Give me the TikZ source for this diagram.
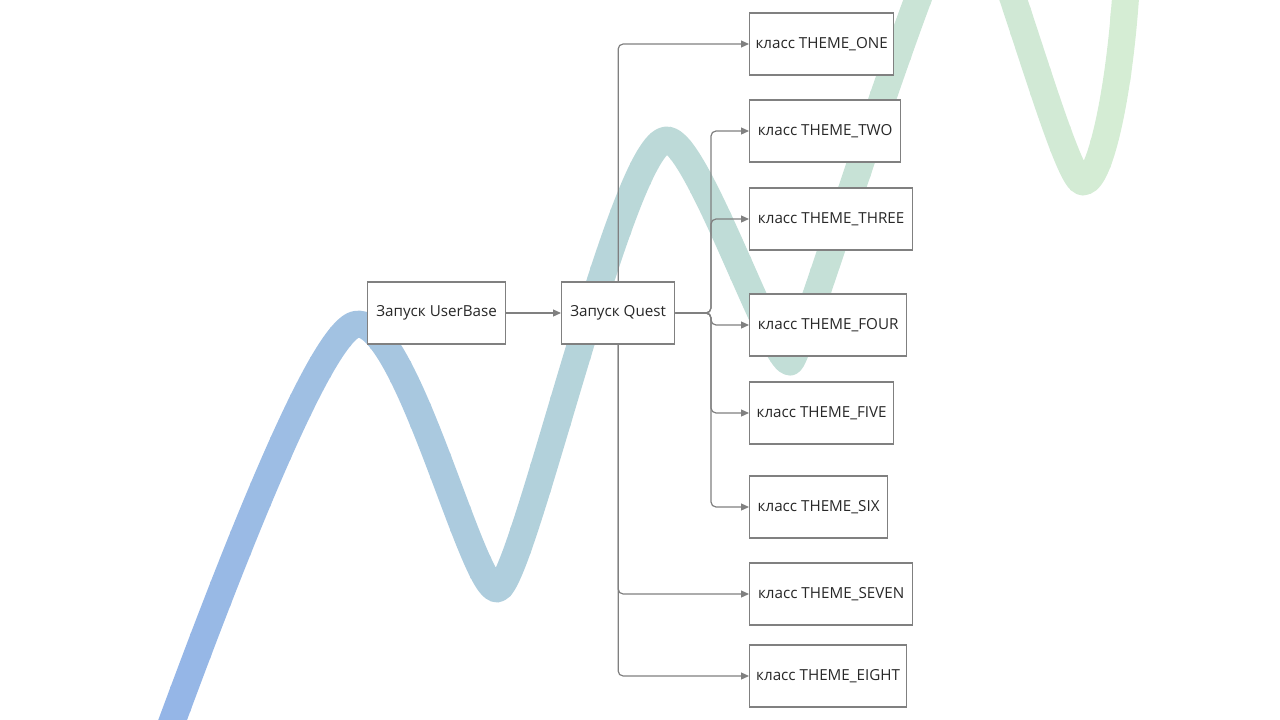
\documentclass[tikz,border=0pt]{standalone}
\usepackage{fontspec}
\setmainfont{Open Sans}
\usetikzlibrary{arrows.meta}
\definecolor{wblue}{RGB}{148,181,231}
\definecolor{wteal}{RGB}{187,217,216}
\definecolor{wgreen}{RGB}{214,237,212}
\definecolor{edgegray}{RGB}{128,128,128}
\definecolor{txt}{RGB}{40,40,40}
\begin{document}
\begin{tikzpicture}[x=1pt,y=-1pt,
 box/.style={draw=edgegray, line width=1.3pt, fill=white, minimum height=62pt, inner xsep=0pt, text=txt, font=\fontsize{15.2}{18}\selectfont, anchor=west},
 conn/.style={draw=edgegray, line width=1.2pt, rounded corners=5pt, -{Triangle[length=8pt,width=7pt]}},
 wave/.style={line width=27pt, line join=round}]
\useasboundingbox (0,0) rectangle (1280,720);
\begin{scope}
\clip (0,0) rectangle (1280,720);
\foreach \i in {0,...,50}{
  \pgfmathsetmacro\xs{150+\i*20}
  \pgfmathsetmacro\wt{min(max((\xs+10-170)/960,0),1)}
  \ifdim\wt pt<0.5pt
    \pgfmathsetmacro\wp{100-200*\wt}
    \colorlet{wc}{wblue!\wp!wteal}
  \else
    \pgfmathsetmacro\wp{200-200*\wt}
    \colorlet{wc}{wteal!\wp!wgreen}
  \fi
  \begin{scope}
   \clip (\xs,-200) rectangle ++(21,1100);
   \draw[wave, draw=wc] (156,765) .. controls (204,635) and (318,324) .. (358,324)
     .. controls (408,324) and (472,589) .. (497,589)
     .. controls (522,589) and (622,140) .. (667,140)
     .. controls (697,140) and (772,362) .. (790,362)
     .. controls (800,362) and (940,-105) .. (968,-105)
     .. controls (990,-105) and (1063,182) .. (1083,182)
     .. controls (1103,182) and (1126,60) .. (1128,-60);
  \end{scope}
}
\end{scope}

\node[box, minimum width=138pt] (ub) at (367,313) {Запуск UserBase};
\node[box, minimum width=113pt] (q) at (561,313) {Запуск Quest};
\node[box, minimum width=144pt] (one) at (749,44) {класс THEME\_ONE};
\node[box, minimum width=151pt] (two) at (749,131) {класс THEME\_TWO};
\node[box, minimum width=163pt] (three) at (749,219) {класс THEME\_THREE};
\node[box, minimum width=157pt] (four) at (749,325) {класс THEME\_FOUR};
\node[box, minimum width=144pt] (five) at (749,413) {класс THEME\_FIVE};
\node[box, minimum width=138pt] (six) at (749,507) {класс THEME\_SIX};
\node[box, minimum width=163pt] (seven) at (749,594) {класс THEME\_SEVEN};
\node[box, minimum width=157pt] (eight) at (749,676) {класс THEME\_EIGHT};

\coordinate (jx) at (711,313);
\draw[conn] (ub) -- (q);
\draw[conn] (q.north) |- (one.west);
\draw[conn] (q.south) |- (seven.west);
\draw[conn] (q.south) |- (eight.west);
\foreach \n in {two,three,four,five,six}
  \draw[conn] (q.east) -- (jx) |- (\n.west);
\end{tikzpicture}
\end{document}
